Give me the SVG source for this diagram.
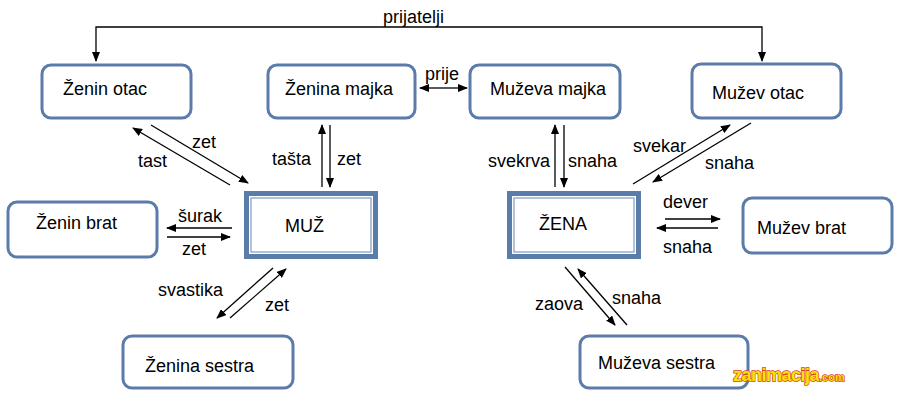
<svg xmlns="http://www.w3.org/2000/svg" width="900" height="402" viewBox="0 0 900 402">
<defs>
<marker id="ah" markerWidth="10" markerHeight="8" refX="9" refY="4" orient="auto" markerUnits="userSpaceOnUse">
<path d="M0,0 L10,4 L0,8 Z" fill="#000"/>
</marker>
<style>
.box{fill:#fff;stroke:#5b7caa;stroke-width:3}
.dbl{fill:#fff;stroke:#5a7ca8;stroke-width:5}
.inner{fill:none;stroke:#7d9cc4;stroke-width:1.2}
.t{font-family:"Liberation Sans",Arial,sans-serif;font-size:18px;fill:#000}
.c{stroke:#000;stroke-width:1.3;fill:none}
.a{stroke:#000;stroke-width:1.3;fill:none;marker-end:url(#ah)}
.wm{font-family:"Liberation Sans",Arial,sans-serif;font-weight:bold;fill:#f7e400;stroke:#d8401a;stroke-width:1.4;paint-order:stroke}
</style>
</defs>
<rect width="900" height="402" fill="#fff"/>
<g id="connectors">
<path class="a" d="M430,27 H96 V61"/>
<path class="a" d="M430,27 H762 V61"/>
<line class="a" x1="443" y1="88" x2="467" y2="88"/>
<line class="a" x1="443" y1="88" x2="420" y2="88"/>
<line class="a" x1="230" y1="185" x2="133" y2="128"/>
<line class="a" x1="151" y1="125" x2="248" y2="183"/>
<line class="a" x1="322" y1="187" x2="322" y2="125"/>
<line class="a" x1="330" y1="125" x2="330" y2="187"/>
<line class="a" x1="555" y1="187" x2="555" y2="125"/>
<line class="a" x1="564" y1="125" x2="564" y2="187"/>
<line class="a" x1="633" y1="184" x2="730" y2="125"/>
<line class="a" x1="751" y1="123" x2="653" y2="182"/>
<line class="a" x1="232" y1="228" x2="167" y2="228"/>
<line class="a" x1="167" y1="237" x2="230" y2="237"/>
<line class="a" x1="665" y1="219" x2="720" y2="219"/>
<line class="a" x1="718" y1="228" x2="657" y2="228"/>
<line class="a" x1="273" y1="268" x2="217" y2="318"/>
<line class="a" x1="230" y1="318" x2="286" y2="269"/>
<line class="a" x1="565" y1="267" x2="615" y2="325"/>
<line class="a" x1="627" y1="325" x2="578" y2="269"/>
<text class="t" x="383" y="23">prijatelji</text>
<text class="t" x="425" y="80">prije</text>
<text class="t" x="192" y="148">zet</text>
<text class="t" x="138" y="167">tast</text>
<text class="t" x="272" y="165">tašta</text>
<text class="t" x="337" y="165">zet</text>
<text class="t" x="488" y="167">svekrva</text>
<text class="t" x="568" y="167">snaha</text>
<text class="t" x="633" y="152">svekar</text>
<text class="t" x="705" y="169">snaha</text>
<text class="t" x="178" y="222">šurak</text>
<text class="t" x="182" y="255">zet</text>
<text class="t" x="663" y="208">dever</text>
<text class="t" x="663" y="253">snaha</text>
<text class="t" x="158" y="296">svastika</text>
<text class="t" x="265" y="311">zet</text>
<text class="t" x="535" y="310">zaova</text>
<text class="t" x="612" y="304">snaha</text>
</g>
<g id="zenin-otac"><rect class="box" x="42" y="65" width="149" height="53" rx="9"/><text class="t" x="63" y="95">Ženin otac</text></g>
<g id="zenina-majka"><rect class="box" x="268" y="65" width="147" height="53" rx="9"/><text class="t" x="285" y="95">Ženina majka</text></g>
<g id="muzeva-majka"><rect class="box" x="470" y="65" width="150" height="53" rx="9"/><text class="t" x="490" y="95">Muževa majka</text></g>
<g id="muzev-otac"><rect class="box" x="692" y="64" width="149" height="54" rx="9"/><text class="t" x="712" y="99">Mužev otac</text></g>
<g id="zenin-brat"><rect class="box" x="8" y="202" width="149" height="55" rx="9"/><text class="t" x="36" y="229">Ženin brat</text></g>
<g id="muz"><rect class="dbl" x="246.5" y="193.5" width="129" height="63"/><rect class="inner" x="251" y="198" width="120" height="54"/><text class="t" x="285" y="232">MUŽ</text></g>
<g id="zena"><rect class="dbl" x="509.5" y="193.5" width="129" height="63"/><rect class="inner" x="514" y="198" width="120" height="54"/><text class="t" x="539" y="230">ŽENA</text></g>
<g id="muzev-brat"><rect class="box" x="743" y="198" width="149" height="55" rx="9"/><text class="t" x="757" y="234">Mužev brat</text></g>
<g id="zenina-sestra"><rect class="box" x="123" y="336" width="170" height="52" rx="9"/><text class="t" x="145" y="372">Ženina sestra</text></g>
<g id="muzeva-sestra"><rect class="box" x="580" y="336" width="168" height="52" rx="9"/><text class="t" x="598" y="369">Muževa sestra</text></g>
<g id="watermark">
<text class="wm" x="733" y="381" font-size="18" letter-spacing="-0.5">zanimacija<tspan font-size="11" letter-spacing="0">.com</tspan></text>
</g>
</svg>
